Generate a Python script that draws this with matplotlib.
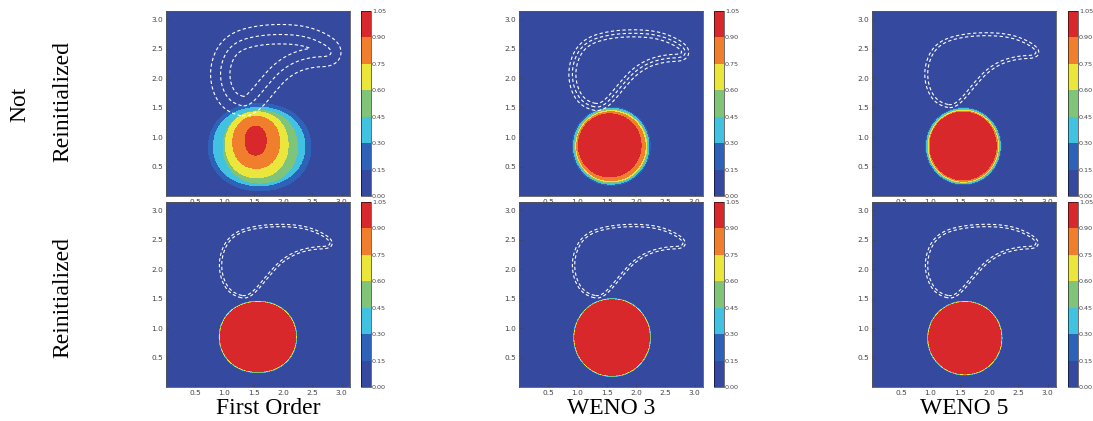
import numpy as np
import matplotlib
matplotlib.use("Agg")
import matplotlib.pyplot as plt
from matplotlib.colors import ListedColormap, BoundaryNorm
from matplotlib.path import Path

# colour bands of the level set field
levels = [0.0, 0.15, 0.30, 0.45, 0.60, 0.75, 0.90, 1.05]
band_colors = ["#35499e", "#2e62b8", "#40c2e0", "#80c47a",
               "#ebe63c", "#f07e2c", "#d8282b"]
col_titles = ["First Order", "WENO 3", "WENO 5"]

# boundaries of the 0.15, 0.30, 0.45, 0.60, 0.75, 0.90 bands: (cx, cy, rx, ry)
first_not = [(1.60, 0.83, 0.875, 0.74), (1.59, 0.84, 0.78, 0.665),
             (1.61, 0.835, 0.635, 0.615), (1.55, 0.87, 0.535, 0.56),
             (1.54, 0.91, 0.40, 0.44), (1.53, 0.94, 0.18, 0.245)]
weno3_not = [(1.575, 0.845, 0.665, 0.665), (1.575, 0.845, 0.645, 0.645),
             (1.575, 0.845, 0.625, 0.625), (1.575, 0.845, 0.605, 0.605),
             (1.57, 0.845, 0.585, 0.585), (1.55, 0.86, 0.535, 0.535)]
weno5_not = [(1.56, 0.845, 0.645, 0.655), (1.56, 0.845, 0.63, 0.64),
             (1.56, 0.845, 0.615, 0.625), (1.56, 0.845, 0.60, 0.61),
             (1.56, 0.845, 0.585, 0.595), (1.555, 0.85, 0.565, 0.575)]
first_re = [(1.57, 0.85, 0.665, 0.61), (1.57, 0.85, 0.66, 0.605),
            (1.57, 0.85, 0.655, 0.60), (1.57, 0.85, 0.65, 0.595),
            (1.57, 0.85, 0.645, 0.59), (1.57, 0.85, 0.64, 0.585)]
weno3_re = [(1.59, 0.84, 0.66, 0.665), (1.59, 0.84, 0.655, 0.66),
            (1.59, 0.84, 0.65, 0.655), (1.59, 0.84, 0.645, 0.65),
            (1.59, 0.84, 0.64, 0.645), (1.59, 0.84, 0.635, 0.64)]
weno5_re = [(1.585, 0.83, 0.64, 0.63), (1.585, 0.83, 0.635, 0.625),
            (1.585, 0.83, 0.63, 0.62), (1.585, 0.83, 0.625, 0.615),
            (1.585, 0.83, 0.62, 0.61), (1.585, 0.83, 0.615, 0.605)]
panel_shapes = [[first_not, weno3_not, weno5_not],
                [first_re, weno3_re, weno5_re]]
shape_power = [[2.1, 2.0, 2.0], [2.08, 2.0, 2.0]]

# stretched comma (dashed white outline)
comma_x = [1.30, 1.08, 0.95, 0.92, 1.02, 1.22, 1.55, 1.95, 2.35, 2.65,
           2.83, 2.80, 2.50, 2.20, 1.95, 1.75, 1.57, 1.43]
comma_y = [1.52, 1.62, 1.85, 2.15, 2.45, 2.63, 2.72, 2.75, 2.72, 2.61,
           2.48, 2.37, 2.36, 2.28, 2.12, 1.90, 1.68, 1.55]
dash_offsets = [[[-0.16, 0.0, 0.17], [-0.04, 0.02, 0.08], [-0.02, 0.03]],
                [[-0.02, 0.02], [-0.02, 0.02], [-0.02, 0.02]]]

W, H = 1093, 421
axes_left = [166, 519, 872]
axes_w = 184
cbar_left = [361, 714, 1068]
cbar_w = 10
row_top = [11, 202]
row_h = 185

n = 500
g = np.linspace(0, np.pi, n)
X, Y = np.meshgrid(g, g)


def band_field(shapes, p):
    f = np.full(X.shape, 0.075)
    for cx, cy, rx, ry in shapes:
        rho = (np.abs((X - cx) / rx) ** p + np.abs((Y - cy) / ry) ** p) ** (1.0 / p)
        s = (1 - rho) * min(rx, ry)
        f += 0.15 * 0.5 * (1 + np.tanh(s / 0.003))
    return f


def smooth_closed(x, y, it=3):
    P = np.column_stack([x, y])
    for _ in range(it):
        Q = np.roll(P, -1, axis=0)
        P = np.column_stack([0.75 * P + 0.25 * Q, 0.25 * P + 0.75 * Q]).reshape(-1, 2)
    return P


def signed_dist(P):
    d = np.full(X.shape, np.inf)
    for i in range(len(P)):
        a = P[i]
        b = P[(i + 1) % len(P)]
        ab = b - a
        t = ((X - a[0]) * ab[0] + (Y - a[1]) * ab[1]) / (ab @ ab)
        t = np.clip(t, 0, 1)
        d = np.minimum(d, np.hypot(X - a[0] - t * ab[0], Y - a[1] - t * ab[1]))
    inside = Path(P).contains_points(np.column_stack([X.ravel(), Y.ravel()])).reshape(X.shape)
    return np.where(inside, -d, d)


comma_d = signed_dist(smooth_closed(comma_x, comma_y))

cmap = ListedColormap(band_colors)
norm = BoundaryNorm(levels, cmap.N)
plt.rcParams['lines.dashed_pattern'] = [3.0, 2.2]

fig = plt.figure(figsize=(W / 100, H / 100), dpi=100)
for r in range(2):
    for c in range(3):
        b = 1 - (row_top[r] + row_h) / H
        ax = fig.add_axes([axes_left[c] / W, b, axes_w / W, row_h / H])
        F = band_field(panel_shapes[r][c], shape_power[r][c])
        cs = ax.contourf(X, Y, F, levels=levels, cmap=cmap, norm=norm)
        ax.contour(X, Y, comma_d, levels=dash_offsets[r][c], colors="white",
                   linestyles="dashed", linewidths=0.8)
        ax.set_xlim(0, np.pi)
        ax.set_ylim(0, np.pi)
        ax.set_xticks([0.5, 1.0, 1.5, 2.0, 2.5, 3.0])
        ax.set_yticks([0.5, 1.0, 1.5, 2.0, 2.5, 3.0])
        ax.tick_params(labelsize=5.3, length=2, width=0.5, direction="in",
                       colors="#444444", pad=2)
        for sp in ax.spines.values():
            sp.set_color("#555555")
            sp.set_linewidth(0.6)
        cax = fig.add_axes([cbar_left[c] / W, b, cbar_w / W, row_h / H])
        cb = fig.colorbar(cs, cax=cax, ticks=levels)
        cb.ax.set_yticklabels(["%.2f" % v for v in levels])
        cb.ax.tick_params(labelsize=4.6, length=0, pad=0.6, colors="#444444")
        cb.outline.set_linewidth(0.4)

serif = "Liberation Serif"
fig.text(20 / W, 1 - 104 / H, "Not", rotation=90, ha="center", va="center",
         fontsize=17, family=serif)
fig.text(63 / W, 1 - 101 / H, "Reinitialized", rotation=90, ha="center",
         va="center", fontsize=17, family=serif)
fig.text(63 / W, 1 - 297 / H, "Reinitialized", rotation=90, ha="center",
         va="center", fontsize=17, family=serif)
for c, t in enumerate(col_titles):
    fig.text((axes_left[c] + axes_w / 2 + (10 if c == 0 else 0)) / W, 1 - 408 / H, t,
             ha="center", va="center", fontsize=17, family=serif)

fig.savefig("out.png", dpi=100)
